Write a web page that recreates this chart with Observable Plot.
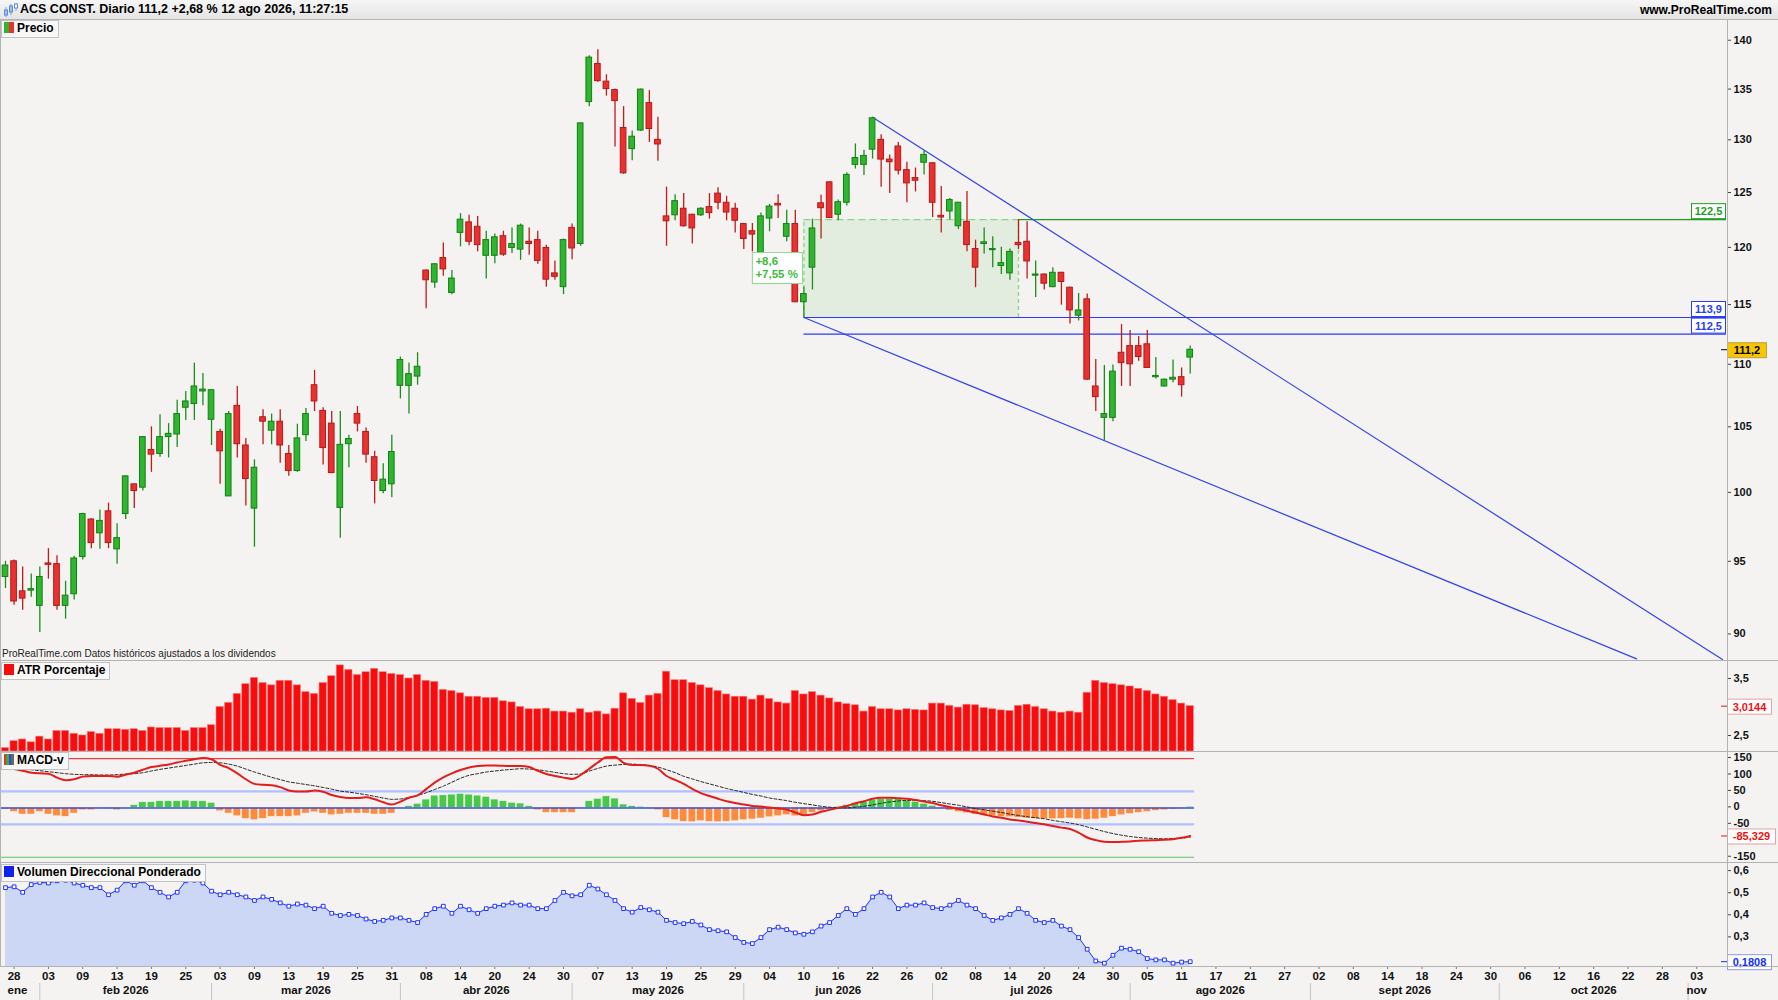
<!DOCTYPE html>
<html><head><meta charset="utf-8">
<script src="https://cdn.jsdelivr.net/npm/d3@7"></script>
<script src="https://cdn.jsdelivr.net/npm/@observablehq/plot@0.6"></script>
<style>
html,body{margin:0;padding:0;background:#f4f3f1;}
#root{position:relative;width:1778px;height:1000px;overflow:hidden;background:#f4f3f1;font-family:"Liberation Sans",Arial,sans-serif;}
.hdr{position:absolute;left:0;top:0;width:1778px;height:19px;background:linear-gradient(#f6f6f6,#e4e4e4);border-bottom:1px solid #b4b4b4;}
.ttl{position:absolute;left:20px;top:2px;font:bold 12.5px "Liberation Sans",Arial,sans-serif;color:#000;white-space:nowrap;}
.www{position:absolute;right:6px;top:3px;font:bold 12px "Liberation Sans",Arial,sans-serif;color:#000;}
.lbl{position:absolute;left:1px;height:16px;line-height:16px;padding:0 4px 0 2px;background:#f8f8f8;border:1px solid #c2c2c2;font:bold 12px "Liberation Sans",Arial,sans-serif;color:#000;white-space:nowrap;}
.ic{display:inline-block;width:10px;height:11px;vertical-align:-1px;margin-right:3px;}
.sep{position:absolute;left:0;width:1778px;height:1px;background:#b3b3b3;}
.vline{position:absolute;width:1px;background:#b3b3b3;}
.note{position:absolute;left:2px;top:648px;font:10px "Liberation Sans",Arial,sans-serif;color:#222;white-space:nowrap;}
</style></head><body><div id="root"></div><script>
// ---------- DATA ----------
const open = [93.9,95.0,92.9,92.95,91.9,94.85,94.8,91.9,92.7,95.3,
98.0,97.0,98.6,95.85,98.4,100.6,100.35,103.2,102.9,104.2,
104.4,106.5,106.8,107.8,105.55,104.6,99.7,106.65,103.55,98.8,
105.75,104.7,105.4,102.9,101.6,104.35,108.3,106.25,105.25,98.85,
103.65,106.0,104.6,102.65,100.1,100.6,108.25,108.25,109.0,117.95,
116.9,119.05,116.0,121.3,122.25,121.85,119.25,119.25,121.0,119.95,
119.8,120.5,120.65,119.95,117.7,116.5,121.75,120.3,133.7,137.55,
135.75,134.9,131.15,129.1,130.9,133.6,130.0,122.8,122.9,123.5,
122.95,122.9,123.65,124.9,124.05,123.5,122.1,121.45,119.4,122.6,
123.95,120.95,122.1,115.2,118.2,124.0,125.95,122.95,124.05,127.6,
127.6,129.05,130.0,128.1,129.35,127.1,126.35,127.8,127.75,122.85,
123.25,121.9,122.3,119.85,120.3,119.75,118.35,117.7,120.4,120.5,
117.5,117.6,116.5,117.75,116.45,114.05,115.45,108.2,105.7,105.7,
110.95,111.5,111.5,111.65,108.95,108.2,108.75,108.95,110.55];
const high = [95.0,95.1,94.6,94.1,94.6,95.9,95.4,93.6,95.35,98.45,
98.05,98.7,99.2,97.7,101.2,100.6,104.2,105.0,105.95,105.25,
107.1,107.8,110.1,109.25,107.9,104.8,106.2,108.2,104.1,102.45,
106.35,106.0,106.35,103.55,105.2,106.45,109.5,106.5,106.2,106.2,
104.35,106.6,104.9,103.1,102.15,104.35,110.6,110.1,110.95,118.0,
118.55,120.4,117.95,123.05,122.9,122.8,121.45,121.2,121.45,121.75,
122.1,121.75,121.45,120.2,118.8,120.75,122.1,131.6,138.4,139.0,
136.45,135.0,133.25,130.85,135.0,134.85,132.2,125.5,124.8,124.9,
123.0,123.6,124.9,125.45,124.65,124.0,122.15,122.15,123.1,123.9,
124.8,123.35,123.35,116.5,122.55,124.75,126.0,124.3,126.85,129.6,
129.0,132.2,130.5,128.55,129.75,127.85,127.3,128.95,127.8,125.55,
124.45,124.1,125.1,120.65,121.75,120.95,120.0,119.85,122.5,122.3,
118.8,117.65,118.2,117.8,116.5,115.95,115.9,110.4,109.9,109.95,
113.3,112.8,112.3,112.8,110.55,108.8,110.35,109.7,111.5];
const low = [93.1,91.95,91.6,92.5,90.1,93.75,91.6,91.0,92.3,95.1,
95.9,95.85,95.9,94.8,98.0,98.8,100.1,101.5,102.65,102.6,
103.4,105.5,105.5,106.65,103.55,100.6,99.7,102.6,99.0,96.0,
103.6,103.6,102.2,101.2,101.5,103.85,106.2,102.05,101.4,96.65,
101.85,104.6,102.2,99.15,99.9,99.6,107.2,106.0,108.3,114.65,
116.4,117.45,115.85,120.05,120.15,119.6,117.2,118.55,119.2,119.45,
118.85,119.3,118.5,116.5,117.1,115.85,118.9,120.1,133.25,135.7,
134.3,129.3,126.7,128.0,130.8,129.75,127.95,120.1,122.4,121.8,
120.3,122.8,122.55,123.4,122.4,121.3,119.8,119.6,119.35,121.4,
122.6,120.5,115.15,113.9,116.25,120.75,122.6,122.4,123.75,127.2,
126.6,128.15,125.5,124.9,126.65,124.05,125.05,126.65,122.7,121.3,
122.5,121.6,119.6,116.45,119.4,118.2,117.6,117.1,119.8,117.2,
115.6,116.25,116.45,114.95,113.35,113.6,108.7,106.2,103.9,105.4,
108.2,108.2,110.25,109.65,108.8,108.15,108.5,107.35,109.2];
const close = [94.7,92.2,92.4,93.05,93.9,94.75,91.9,92.6,95.2,98.4,
96.3,97.9,96.3,96.65,101.2,100.1,104.2,102.85,104.2,104.45,
106.0,107.0,108.2,107.95,107.9,103.1,106.0,103.65,101.0,101.85,
105.4,105.4,103.55,101.6,104.1,106.0,107.0,103.35,101.45,103.6,
104.05,105.25,102.85,100.85,100.95,103.05,110.35,109.2,109.8,117.1,
118.5,118.05,117.25,122.5,120.5,120.2,120.65,120.9,119.35,120.3,
121.95,120.3,118.8,117.15,117.4,120.65,119.9,131.6,138.2,135.8,
135.0,133.8,126.8,130.3,134.95,131.05,129.55,122.35,124.2,121.9,
121.7,123.5,123.1,124.05,123.15,122.4,120.75,121.15,122.8,123.7,
123.8,122.1,115.2,115.9,121.7,123.55,122.65,124.1,126.65,128.25,
128.45,132.1,128.1,127.85,127.05,125.85,126.1,128.55,124.05,122.7,
124.3,124.05,120.2,118.2,120.45,119.85,118.6,119.6,120.2,118.75,
117.6,116.8,117.75,116.95,114.5,114.5,108.75,107.35,106.0,109.4,
110.1,110.0,110.6,109.7,109.05,108.75,108.9,108.3,111.2];
const atr = [2.28,2.40,2.43,2.38,2.48,2.43,2.58,2.58,2.53,2.50,
2.56,2.53,2.61,2.61,2.60,2.61,2.58,2.64,2.63,2.63,
2.63,2.58,2.63,2.63,2.68,3.00,3.07,3.23,3.40,3.51,
3.42,3.38,3.46,3.46,3.38,3.26,3.23,3.42,3.54,3.73,
3.65,3.56,3.61,3.67,3.61,3.58,3.56,3.50,3.56,3.46,
3.44,3.30,3.28,3.24,3.18,3.18,3.16,3.16,3.10,3.08,
3.00,2.96,2.96,2.97,2.92,2.92,2.90,2.96,2.90,2.92,
2.87,2.97,3.24,3.14,3.07,3.20,3.23,3.62,3.47,3.47,
3.42,3.38,3.33,3.28,3.22,3.18,3.18,3.13,3.20,3.14,
3.08,3.06,3.28,3.22,3.26,3.20,3.15,3.08,3.05,3.03,
2.92,3.00,2.96,2.96,2.94,2.96,2.95,2.94,3.06,3.06,
3.02,2.99,3.04,3.03,2.98,2.96,2.94,2.93,3.02,3.04,
3.00,2.96,2.92,2.90,2.92,2.90,3.25,3.46,3.42,3.40,
3.38,3.36,3.32,3.28,3.22,3.18,3.12,3.06,3.0144];
const macd = [123,118,113,107,105,104,92,84,87,95,
97,97,97,95,101,107,116,124,128,132,
138,143,148,152,148,131,121,105,87,73,
70,69,63,53,50,50,53,49,39,33,
30,30,32,26,17,10,19,31,38,57,
77,93,105,115,123,127,129,129,128,127,
127,124,113,103,97,92,88,100,119,138,
154,155,137,130,130,128,119,97,85,73,
58,45,36,28,20,15,10,6,4,1,
-2,-5,-14,-22,-20,-12,-6,0,6,14,
20,28,31,31,29,28,24,19,15,8,
3,-3,-9,-14,-20,-26,-30,-35,-38,-42,
-46,-50,-55,-60,-64,-75,-90,-98,-103,-104,
-103,-102,-100,-99,-98,-97,-95,-91,-85.329];
const signal = [125,122,119,116,113,110,107,104,102,101,
101,100,100,101,103,104,107,112,117,121,
125,129,133,137,138,137,133,127,118,109,
101,93,86,79,75,71,67,62,57,51,
48,44,40,35,30,26,27,32,38,46,
56,66,78,90,99,104,109,112,115,117,
119,118,116,112,108,104,102,103,112,120,
127,130,132,133,131,129,124,116,107,96,
88,80,73,66,59,53,47,41,36,30,
26,22,17,13,9,5,2,0,0,2,
5,9,14,18,21,23,23,22,20,16,
12,8,3,-2,-6,-10,-14,-19,-23,-27,
-30,-33,-38,-42,-46,-51,-58,-65,-72,-78,
-83,-87,-90,-92,-93,-94,-93,-92,-89];
const hist = [-5,-12,-20,-20,-12,-20,-25,-27,-17,-7,
-7,-1,-3,-7,1,8,17,17,20,20,
20,22,20,20,15,-10,-17,-25,-33,-37,
-33,-27,-27,-27,-25,-17,-13,-17,-22,-20,
-17,-17,-17,-20,-20,-17,-2,5,12,25,
37,38,40,42,40,37,33,25,20,15,
13,5,-7,-15,-15,-15,-15,-2,20,27,
35,28,10,5,3,-3,-7,-30,-37,-42,
-43,-40,-42,-43,-42,-40,-37,-35,-32,-28,
-25,-22,-25,-22,-15,-10,-5,3,8,14,
18,24,26,27,26,22,18,12,6,-2,
-8,-12,-16,-20,-23,-25,-27,-28,-30,-32,
-33,-34,-34,-33,-32,-34,-36,-35,-32,-27,
-22,-18,-15,-12,-9,-7,-5,-3,3];
const vdp = [0.516,0.52,0.495,0.53,0.54,0.537,0.547,0.55,0.537,0.527,
0.516,0.516,0.484,0.505,0.547,0.527,0.547,0.516,0.495,0.474,
0.495,0.547,0.55,0.537,0.5,0.484,0.495,0.484,0.474,0.458,
0.474,0.463,0.447,0.432,0.442,0.437,0.421,0.432,0.4,0.39,
0.395,0.39,0.374,0.363,0.368,0.379,0.379,0.368,0.358,0.395,
0.421,0.432,0.4,0.432,0.416,0.4,0.421,0.432,0.437,0.447,
0.437,0.437,0.421,0.421,0.458,0.495,0.479,0.484,0.527,0.51,
0.484,0.458,0.421,0.405,0.426,0.416,0.405,0.368,0.358,0.353,
0.363,0.347,0.326,0.321,0.316,0.29,0.268,0.263,0.29,0.326,
0.337,0.326,0.311,0.305,0.316,0.342,0.358,0.39,0.421,0.395,
0.421,0.474,0.495,0.474,0.421,0.437,0.437,0.447,0.426,0.421,
0.437,0.458,0.437,0.421,0.39,0.368,0.379,0.395,0.421,0.4,
0.368,0.358,0.368,0.342,0.326,0.29,0.237,0.184,0.174,0.21,
0.242,0.237,0.226,0.195,0.189,0.189,0.174,0.179,0.1808];
const dayLabels = ["28","03","09","13","19","25","03","09","13","19","25","31","08","14","20","24","30","07","13","19","25","29","04","10","16","22","26","02","08","14","20","24","30","05","11","17","21","27","02","08","14","18","24","30","06","12","16","22","28","03"];
const monthNames = ["ene","feb 2026","mar 2026","abr 2026","may 2026","jun 2026","jul 2026","ago 2026","sept 2026","oct 2026","nov"];
const monthStart = [null,4,24,46,66,86,108,131,152,174,196];
const priceTicks = [90,95,100,105,110,115,120,125,130,135,140];
const atrTicks = [3.5,2.5];
const macdTicks = [150,100,50,0,-50,-150];
const vdpTicks = [0.6,0.5,0.4,0.3];
const macdLevels = [150,50,-50,-150];
// drawings on the price chart: [index, price]
const upperTrend = [[101,132.2],[200.0,88.3]];
const lowerTrend = [[93,113.9],[190.0,88.35]];
const measure = {from:93, to:118, low:113.9, high:122.5, diff:"+8,6", pct:"+7,55 %"};
const levels = [{v:122.5, from:118, color:"#1f9e1f", text:"122,5"},{v:113.9, from:93, color:"#2a3cf0", text:"113,9"},{v:112.5, from:93, color:"#2a3cf0", text:"112,5"}];
const last = {price:111.2, atr:3.0144, macd:-85.329, vdp:0.1808};

// ---------- LAYOUT ----------
const W = 1778, MR = 52, AX = 1726;
const xDomain = [-0.582, 200.47];
const lastIdx = open.length - 1 + 0.5;
const root = document.getElementById("root");
const FONT = '"Liberation Sans", Arial, sans-serif';
const fmt = d => String(d).replace(".", ",");
const idx = d3.range(open.length);

function panel(top, height, y, marks) {
  const chart = Plot.plot({
    width: W, height, marginLeft: 0, marginRight: MR, marginTop: 0, marginBottom: 0,
    style: {background: "transparent", fontFamily: FONT, fontSize: "11px", fontWeight: "bold", color: "#111", overflow: "visible"},
    x: {domain: xDomain, axis: null},
    y: {...y, axis: null},
    marks
  });
  chart.style.position = "absolute"; chart.style.left = "0px"; chart.style.top = top + "px";
  root.appendChild(chart);
  return chart;
}
function axisR(ticks, dy = 0) {
  return Plot.axisY(ticks, {anchor: "right", tickSize: 4, tickPadding: 3, tickFormat: fmt, fontSize: 11, fontWeight: "bold", stroke: "#444", fill: "#111", label: null, dy});
}
function tag(chart, x, y, w, h, text, color, fill, stroke, tick) {
  const g = d3.select(chart).append("g");
  if (tick) g.append("line").attr("x1", x - 6).attr("x2", x).attr("y1", y + h/2).attr("y2", y + h/2).attr("stroke", tick);
  g.append("rect").attr("x", x + 0.5).attr("y", y + 0.5).attr("width", w).attr("height", h).attr("fill", fill).attr("stroke", stroke);
  g.append("text").attr("x", x + w/2 + 0.5).attr("y", y + h/2 + 0.5).attr("dy", "0.36em").attr("text-anchor", "middle")
    .attr("fill", color).attr("font-weight", "bold").attr("font-size", 11).attr("font-family", FONT).text(text);
}

// header
const hdr = document.createElement("div"); hdr.className = "hdr";
hdr.innerHTML = `<svg width="16" height="16" style="position:absolute;left:3px;top:2px"><line x1="3" y1="5" x2="3" y2="15" stroke="#6fa0e6"/><rect x="1.5" y="8" width="3" height="5" fill="#9cc0f0" stroke="#5a8ad8"/><line x1="8" y1="2" x2="8" y2="13" stroke="#6fa0e6"/><rect x="6.5" y="4" width="3" height="6" fill="#9cc0f0" stroke="#5a8ad8"/><line x1="13" y1="1" x2="13" y2="9" stroke="#6fa0e6"/><rect x="11.5" y="2" width="3" height="4" fill="#fff" stroke="#5a8ad8"/></svg><div class="ttl">ACS CONST. Diario 111,2 +2,68 % 12 ago 2026, 11:27:15</div><div class="www">www.ProRealTime.com</div>`;
root.appendChild(hdr);

// ---------- PRICE PANEL ----------
const candles = idx.map(i => ({i, o: open[i], h: high[i], l: low[i], c: close[i], up: close[i] >= open[i]}));
const priceChart = panel(20, 640, {type: "log", domain: [88.24, 142.07], range: [640, 0]}, [
  Plot.rect([measure], {x1: "from", x2: "to", y1: "low", y2: "high", fill: "#e3eddf"}),
  Plot.ruleY([measure], {y: "high", x1: "from", x2: "to", stroke: "#86d686", strokeWidth: 1.3, strokeDasharray: "7,4"}),
  Plot.ruleX([measure.from, measure.to], {y1: measure.low, y2: measure.high, stroke: "#86d686", strokeWidth: 1.3, strokeDasharray: "4,3"}),
  Plot.ruleY(levels, {y: "v", x1: "from", x2: xDomain[1], stroke: "color", strokeWidth: 1.2}),
  Plot.line(upperTrend, {x: d => d[0], y: d => d[1], stroke: "#3344ee", strokeWidth: 1.2}),
  Plot.line(lowerTrend, {x: d => d[0], y: d => d[1], stroke: "#3344ee", strokeWidth: 1.2}),
  Plot.ruleX(candles, {x: "i", y1: "l", y2: "h", stroke: d => d.up ? "#1b8d1b" : "#c01a1a", strokeWidth: 1.3}),
  Plot.rect(candles, {x1: d => d.i - 0.33, x2: d => d.i + 0.33, y1: "o", y2: "c", fill: d => d.up ? "#2fb52f" : "#e83232", stroke: d => d.up ? "#138013" : "#b81717", strokeWidth: 1}),
  axisR(priceTicks)
]);
{
  const sx = priceChart.scale("x"), sy = priceChart.scale("y");
  levels.forEach(l => tag(priceChart, AX - 35, sy.apply(l.v) - 16, 34, 15, l.text, l.color, "#fff", l.color));
  tag(priceChart, AX + 1, sy.apply(last.price) - 7, 39, 15, fmt(last.price), "#000", "#f7c600", "#b9a24c", "#000");
  // measurement label
  const xr = sx.apply(measure.from) - 1, ym = (sy.apply(measure.low) + sy.apply(measure.high)) / 2;
  const g = d3.select(priceChart).append("g");
  g.append("rect").attr("x", xr - 50).attr("y", ym - 15.5).attr("width", 50).attr("height", 31).attr("fill", "#fff").attr("stroke", "#8bd88b");
  [measure.diff, measure.pct].forEach((t, k) => g.append("text").attr("x", xr - 47).attr("y", ym - 3 + k * 13).attr("text-anchor", "start").attr("fill", "#3cbc3c")
    .attr("font-weight", "bold").attr("font-size", 11.5).attr("font-family", FONT).text(t));
}

// ---------- ATR PANEL ----------
const atrData = idx.map(i => ({i, v: atr[i]}));
const atrChart = panel(660, 91, {domain: [2.219, 3.816], range: [91, 0]}, [
  Plot.rect(atrData, {x1: d => d.i - 0.42, x2: d => d.i + 0.42, y1: 2.219, y2: "v", fill: "#f70d0d", stroke: "#ff7a7a", strokeWidth: 0.6}),
  axisR(atrTicks)
]);
tag(atrChart, AX + 1, atrChart.scale("y").apply(last.atr) - 7, 44, 15, fmt(last.atr), "#f01010", "#fff", "#e8a0a0", "#f01010");

// ---------- MACD PANEL ----------
const mData = idx.map(i => ({i, m: macd[i], s: signal[i], h: hist[i]}));
const levelColor = v => v === 150 ? "#e84040" : v === -150 ? "#5fc65f" : "#b0c0ff";
const macdChart = panel(751, 111, {domain: [-166, 171.4], range: [111, 0]}, [
  Plot.ruleY(macdLevels, {x1: xDomain[0], x2: lastIdx, stroke: levelColor, strokeWidth: d => Math.abs(d) === 50 ? 2.2 : 1.2, strokeDasharray: d => Math.abs(d) === 50 ? "5,5" : "3,3"}),
  Plot.rect(mData, {x1: d => d.i - 0.42, x2: d => d.i + 0.42, y1: 0, y2: "h", fill: d => d.h >= 0 ? "#48c848" : "#ff8a3d", stroke: "#fff", strokeWidth: 0.5, strokeOpacity: 0.6}),
  Plot.ruleY([0], {x1: xDomain[0], x2: lastIdx, stroke: "#3a4fd8", strokeWidth: 1.5}),
  Plot.line(mData, {x: "i", y: "s", stroke: "#222", strokeWidth: 1, strokeDasharray: "3,2", curve: "monotone-x"}),
  Plot.line(mData, {x: "i", y: "m", stroke: "#e21d1d", strokeWidth: 2, curve: "monotone-x"}),
  axisR(macdTicks, -1)
]);
tag(macdChart, AX + 1, macdChart.scale("y").apply(last.macd) - 7, 48, 15, fmt(last.macd), "#f01010", "#fff", "#e8a0a0", "#f01010");

// ---------- VDP PANEL ----------
const vData = idx.map(i => ({i, v: vdp[i]}));
const vChart = panel(862, 104, {domain: [0.159, 0.63], range: [104, 0]}, [
  Plot.areaY(vData, {x: "i", y1: 0.159, y2: "v", fill: "#ccd7f6"}),
  Plot.line(vData, {x: "i", y: "v", stroke: "#2233ff", strokeWidth: 1}),
  Plot.dot(vData, {x: "i", y: "v", symbol: "square", r: 2.1, fill: "#fff", stroke: "#2233ff", strokeWidth: 1}),
  axisR(vdpTicks, 1.5)
]);
tag(vChart, AX + 1, vChart.scale("y").apply(last.vdp) - 7, 44, 15, fmt(last.vdp), "#1030ff", "#fff", "#8a9af0", "#1030ff");

// ---------- DATE AXIS ----------
const dayData = dayLabels.map((t, k) => ({i: 1 + 4 * k, t}));
const monthData = monthNames.map((n, k) => ({n, x: k === 0 ? 1.4 : k === monthNames.length - 1 ? 197 : (monthStart[k] + monthStart[k + 1]) / 2}));
panel(966, 34, {domain: [0, 34], range: [0, 34]}, [
  Plot.ruleX(monthStart.filter(d => d !== null), {y1: 17, y2: 34, stroke: "#c4c4c4"}),
  Plot.ruleX(dayData, {x: "i", y1: 0, y2: 3, stroke: "#777"}),
  Plot.text(dayData, {x: "i", y: 10, text: "t", fontSize: 11.5, fontWeight: "bold", fill: "#111"}),
  Plot.text(monthData, {x: "x", y: 23.5, text: "n", fontSize: 11.5, fontWeight: "bold", fill: "#111"})
]);

// separators & labels
[660, 751, 862, 966].forEach(y => { const d = document.createElement("div"); d.className = "sep"; d.style.top = y + "px"; root.appendChild(d); });
{ const v = document.createElement("div"); v.className = "vline"; v.style.left = (AX + 1) + "px"; v.style.top = "20px"; v.style.height = "946px"; root.appendChild(v);
  const l = document.createElement("div"); l.className = "vline"; l.style.left = "0px"; l.style.top = "20px"; l.style.height = "946px"; root.appendChild(l); }
const note = document.createElement("div"); note.className = "note"; note.textContent = "ProRealTime.com  Datos históricos ajustados a los dividendos"; root.appendChild(note);
function label(top, html) { const d = document.createElement("div"); d.className = "lbl"; d.style.top = top + "px"; d.innerHTML = html; root.appendChild(d); }
label(20, `<span class="ic" style="background:linear-gradient(90deg,#2fb52f 50%,#e83232 50%)"></span>Precio`);
label(662, `<span class="ic" style="background:#f70d0d"></span>ATR Porcentaje`);
label(752, `<span class="ic" style="background:linear-gradient(90deg,#e83232 0 25%,#2fb52f 25% 50%,#3344ee 50% 75%,#666 75%)"></span>MACD-v`);
label(864, `<span class="ic" style="background:#1122ee"></span>Volumen Direccional Ponderado`);
</script></body></html>
